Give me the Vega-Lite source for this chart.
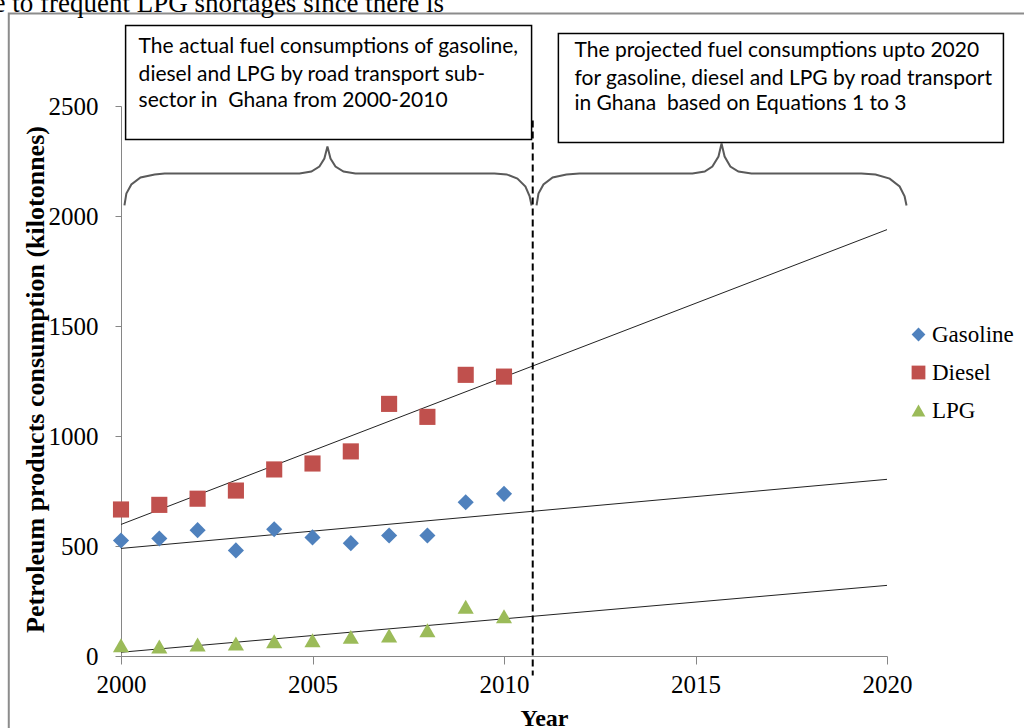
{
  "$schema": "https://vega.github.io/schema/vega-lite/v6.json",
  "autosize": "none",
  "width": 766,
  "height": 550,
  "padding": {"left": 121, "top": 106, "right": 137, "bottom": 72},
  "background": "white",
  "config": {
    "view": {"stroke": null},
    "axis": {"labelFont": "Liberation Serif", "labelFontSize": 25, "labelColor": "black", "titleFont": "Liberation Serif", "titleFontWeight": "bold", "titleFontSize": 24, "titleColor": "black", "domainColor": "#868686", "tickColor": "#868686", "grid": false},
    "legend": {"labelFont": "Liberation Serif", "labelFontSize": 23, "labelColor": "black"}
  },
  "datasets": {
    "frame": [{"x": 1997.07, "x2": 2023.8, "y": 2920, "y2": -400}],
    "braces": [
      {"b": 1, "i": 1, "x": 2000.09, "y": 2048}, {"b": 1, "i": 2, "x": 2000.14, "y": 2102}, {"b": 1, "i": 3, "x": 2000.27, "y": 2143}, {"b": 1, "i": 4, "x": 2000.51, "y": 2175}, {"b": 1, "i": 5, "x": 2000.88, "y": 2189}, {"b": 1, "i": 6, "x": 2001.14, "y": 2193}, {"b": 1, "i": 7, "x": 2004.66, "y": 2193}, {"b": 1, "i": 8, "x": 2004.97, "y": 2202}, {"b": 1, "i": 9, "x": 2005.18, "y": 2225}, {"b": 1, "i": 10, "x": 2005.31, "y": 2261}, {"b": 1, "i": 11, "x": 2005.39, "y": 2316}, {"b": 1, "i": 12, "x": 2005.47, "y": 2261}, {"b": 1, "i": 13, "x": 2005.60, "y": 2225}, {"b": 1, "i": 14, "x": 2005.81, "y": 2202}, {"b": 1, "i": 15, "x": 2006.12, "y": 2193}, {"b": 1, "i": 16, "x": 2009.75, "y": 2193}, {"b": 1, "i": 17, "x": 2010.07, "y": 2189}, {"b": 1, "i": 18, "x": 2010.35, "y": 2170}, {"b": 1, "i": 19, "x": 2010.56, "y": 2134}, {"b": 1, "i": 20, "x": 2010.67, "y": 2089}, {"b": 1, "i": 21, "x": 2010.72, "y": 2048},
      {"b": 2, "i": 1, "x": 2010.85, "y": 2048}, {"b": 2, "i": 2, "x": 2010.90, "y": 2102}, {"b": 2, "i": 3, "x": 2011.03, "y": 2143}, {"b": 2, "i": 4, "x": 2011.27, "y": 2175}, {"b": 2, "i": 5, "x": 2011.63, "y": 2189}, {"b": 2, "i": 6, "x": 2011.97, "y": 2193}, {"b": 2, "i": 7, "x": 2014.92, "y": 2193}, {"b": 2, "i": 8, "x": 2015.24, "y": 2202}, {"b": 2, "i": 9, "x": 2015.44, "y": 2225}, {"b": 2, "i": 10, "x": 2015.60, "y": 2270}, {"b": 2, "i": 11, "x": 2015.68, "y": 2330}, {"b": 2, "i": 12, "x": 2015.76, "y": 2270}, {"b": 2, "i": 13, "x": 2015.91, "y": 2225}, {"b": 2, "i": 14, "x": 2016.12, "y": 2202}, {"b": 2, "i": 15, "x": 2016.46, "y": 2193}, {"b": 2, "i": 16, "x": 2019.33, "y": 2193}, {"b": 2, "i": 17, "x": 2019.70, "y": 2189}, {"b": 2, "i": 18, "x": 2020.07, "y": 2170}, {"b": 2, "i": 19, "x": 2020.33, "y": 2134}, {"b": 2, "i": 20, "x": 2020.46, "y": 2089}, {"b": 2, "i": 21, "x": 2020.51, "y": 2048}
    ],
    "trend": [
      {"s": "Diesel", "x": 2000, "y": 598}, {"s": "Diesel", "x": 2020, "y": 1938},
      {"s": "Gasoline", "x": 2000, "y": 489}, {"s": "Gasoline", "x": 2020, "y": 803},
      {"s": "LPG", "x": 2000, "y": 17}, {"s": "LPG", "x": 2020, "y": 321}
    ],
    "divider": [{"x": 2010.75, "y": 2434, "y2": -89}],
    "boxes": [
      {"x": 2000.12, "x2": 2010.72, "y": 2866, "y2": 2348},
      {"x": 2011.42, "x2": 2023.04, "y": 2830, "y2": 2334}
    ],
    "notes": [
      {"x": 2000.46, "y": 2766, "text": "The actual fuel consumptions of gasoline,"},
      {"x": 2000.46, "y": 2643, "text": "diesel and LPG by road transport sub-"},
      {"x": 2000.46, "y": 2525, "text": "sector in\u00a0 Ghana from 2000-2010"},
      {"x": 2011.84, "y": 2748, "text": "The projected fuel consumptions upto 2020"},
      {"x": 2011.84, "y": 2625, "text": "for gasoline, diesel and LPG by road transport"},
      {"x": 2011.84, "y": 2507, "text": "in Ghana\u00a0 based on Equations 1 to 3"}
    ],
    "toptext": [{"x": 1996.67, "y": 2927, "text": "e to frequent LPG shortages since there is"}],
    "points": [
      {"s": "Gasoline", "x": 2000, "y": 525}, {"s": "Gasoline", "x": 2001, "y": 534}, {"s": "Gasoline", "x": 2002, "y": 572}, {"s": "Gasoline", "x": 2003, "y": 480}, {"s": "Gasoline", "x": 2004, "y": 576}, {"s": "Gasoline", "x": 2005, "y": 539}, {"s": "Gasoline", "x": 2006, "y": 513}, {"s": "Gasoline", "x": 2007, "y": 548}, {"s": "Gasoline", "x": 2008, "y": 548}, {"s": "Gasoline", "x": 2009, "y": 699}, {"s": "Gasoline", "x": 2010, "y": 737},
      {"s": "Diesel", "x": 2000, "y": 666}, {"s": "Diesel", "x": 2001, "y": 687}, {"s": "Diesel", "x": 2002, "y": 715}, {"s": "Diesel", "x": 2003, "y": 752}, {"s": "Diesel", "x": 2004, "y": 848}, {"s": "Diesel", "x": 2005, "y": 875}, {"s": "Diesel", "x": 2006, "y": 930}, {"s": "Diesel", "x": 2007, "y": 1146}, {"s": "Diesel", "x": 2008, "y": 1087}, {"s": "Diesel", "x": 2009, "y": 1278}, {"s": "Diesel", "x": 2010, "y": 1270},
      {"s": "LPG", "x": 2000, "y": 49}, {"s": "LPG", "x": 2001, "y": 43}, {"s": "LPG", "x": 2002, "y": 52}, {"s": "LPG", "x": 2003, "y": 57}, {"s": "LPG", "x": 2004, "y": 67}, {"s": "LPG", "x": 2005, "y": 72}, {"s": "LPG", "x": 2006, "y": 87}, {"s": "LPG", "x": 2007, "y": 93}, {"s": "LPG", "x": 2008, "y": 117}, {"s": "LPG", "x": 2009, "y": 224}, {"s": "LPG", "x": 2010, "y": 181}
    ]
  },
  "encoding": {
    "x": {"field": "x", "type": "quantitative", "scale": {"domain": [2000, 2020], "nice": false, "zero": false},
      "axis": {"values": [2000, 2005, 2010, 2015, 2020], "format": "d", "tickSize": 8, "labelPadding": 8, "title": "Year", "titleX": 423, "titleY": 69, "titleBaseline": "alphabetic", "titleAnchor": null, "titleAlign": "center", "labelFlush": false}},
    "y": {"field": "y", "type": "quantitative", "scale": {"domain": [0, 2500], "nice": false},
      "axis": {"values": [0, 500, 1000, 1500, 2000, 2500], "format": "d", "tickSize": 6, "labelPadding": 17, "title": "Petroleum products consumption (kilotonnes)", "titleFontSize": 26, "titleX": -78, "titleY": 273, "titleAngle": 270, "titleBaseline": "alphabetic", "titleAlign": "center", "titleAnchor": null, "labelFlush": false}}
  },
  "layer": [
    {"data": {"name": "frame"}, "mark": {"type": "rect", "fill": null, "stroke": "#8c8c8c", "strokeWidth": 2}, "encoding": {"x2": {"field": "x2"}, "y2": {"field": "y2"}}},
    {"data": {"name": "braces"}, "mark": {"type": "line", "color": "#5a5a5a", "strokeWidth": 2}, "encoding": {"detail": {"field": "b"}, "order": {"field": "i", "type": "quantitative"}}},
    {"data": {"name": "trend"}, "mark": {"type": "line", "color": "#222222", "strokeWidth": 1}, "encoding": {"detail": {"field": "s"}}},
    {"data": {"name": "divider"}, "mark": {"type": "rule", "color": "black", "strokeWidth": 2, "strokeDash": [7, 4]}, "encoding": {"y2": {"field": "y2"}}},
    {"data": {"name": "boxes"}, "mark": {"type": "rect", "fill": "white", "stroke": "black", "strokeWidth": 1.5}, "encoding": {"x2": {"field": "x2"}, "y2": {"field": "y2"}}},
    {"data": {"name": "notes"}, "mark": {"type": "text", "font": "Lato", "fontSize": 21, "align": "left", "baseline": "middle", "color": "black"}, "encoding": {"text": {"field": "text"}}},
    {"data": {"name": "toptext"}, "mark": {"type": "text", "font": "Liberation Serif", "fontSize": 27, "align": "left", "baseline": "alphabetic", "color": "black"}, "encoding": {"text": {"field": "text"}}},
    {"data": {"name": "points"}, "mark": {"type": "point", "filled": true, "opacity": 1, "size": 260},
      "encoding": {
        "color": {"field": "s", "type": "nominal", "scale": {"domain": ["Gasoline", "Diesel", "LPG"], "range": ["#4F81BD", "#C0504D", "#9BBB59"]},
          "legend": {"title": null, "orient": "none", "legendX": 786, "legendY": 217, "symbolSize": 190, "rowPadding": 14, "labelOffset": 2, "padding": 0, "symbolStrokeWidth": 0}},
        "shape": {"field": "s", "type": "nominal", "scale": {"domain": ["Gasoline", "Diesel", "LPG"], "range": ["diamond", "square", "triangle-up"]}, "legend": {"title": null, "orient": "none", "legendX": 786, "legendY": 217, "symbolSize": 190, "rowPadding": 14, "labelOffset": 2, "padding": 0, "symbolStrokeWidth": 0}}
      }}
  ]
}
